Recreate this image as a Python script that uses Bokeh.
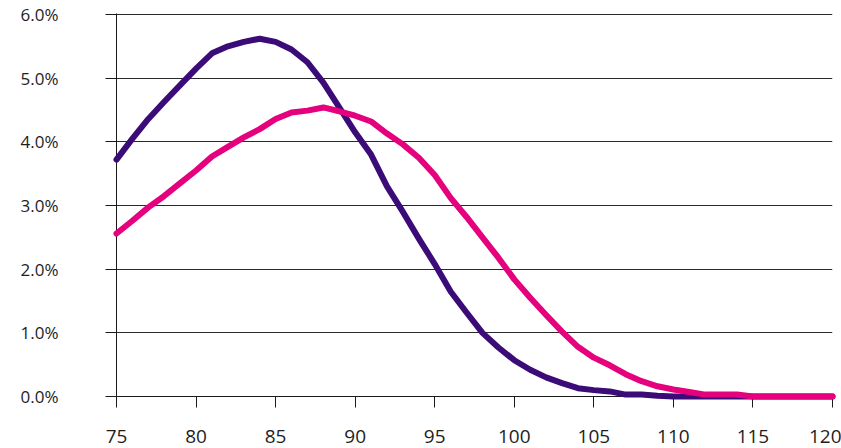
from bokeh.plotting import figure
from bokeh.models import FixedTicker, Range1d
from bokeh.embed import file_html
from bokeh.resources import INLINE

# x positions (75 .. 120)
x_values = list(range(75, 121))

# two distributions, in percent
series_a = [3.72, 4.05, 4.36, 4.63, 4.89, 5.15, 5.39, 5.50, 5.57, 5.62,
            5.57, 5.45, 5.25, 4.93, 4.54, 4.15, 3.80, 3.30, 2.90, 2.48,
            2.08, 1.65, 1.32, 1.00, 0.77, 0.57, 0.42, 0.30, 0.21, 0.13,
            0.10, 0.08, 0.03, 0.03, 0.01, 0.00, 0.00, 0.00, 0.00, 0.00,
            0.00, 0.00, 0.00, 0.00, 0.00, 0.00]
series_b = [2.56, 2.76, 2.97, 3.15, 3.35, 3.55, 3.77, 3.92, 4.07, 4.20,
            4.36, 4.46, 4.49, 4.54, 4.48, 4.41, 4.32, 4.13, 3.96, 3.75,
            3.48, 3.12, 2.82, 2.50, 2.18, 1.84, 1.55, 1.28, 1.02, 0.78,
            0.61, 0.49, 0.35, 0.24, 0.16, 0.11, 0.07, 0.03, 0.03, 0.03,
            0.00, 0.00, 0.00, 0.00, 0.00, 0.00]

x_ticks = [75, 80, 85, 90, 95, 100, 105, 110, 115, 120]
y_ticks = [0.0, 0.01, 0.02, 0.03, 0.04, 0.05, 0.06]
y_tick_labels = {t: f"{t * 100:.1f}%" for t in y_ticks}

PURPLE = "#3b0b78"
MAGENTA = "#e5007d"
INK = "#1e1e1e"
FONT = "Open Sans"

# a hair of headroom so the 6.0% rule is not lost on the frame edge
p = figure(width=841, height=448,
           x_range=Range1d(75, 120), y_range=Range1d(0, 0.060157),
           min_border_left=116, min_border_right=9,
           min_border_top=13, min_border_bottom=52,
           output_backend="svg", toolbar_location=None)
p.outline_line_color = None
p.background_fill_color = "white"
p.border_fill_color = "white"

# grid: horizontal rules only
p.xgrid.visible = False
p.ygrid.ticker = FixedTicker(ticks=y_ticks)
p.ygrid.grid_line_color = "#2a2a2a"
p.ygrid.grid_line_width = 1

for ax, ticks in ((p.xaxis[0], x_ticks), (p.yaxis[0], y_ticks)):
    ax.ticker = FixedTicker(ticks=ticks)
    ax.axis_line_color = "#1a1a1a"
    ax.major_tick_line_color = "#1a1a1a"
    ax.major_tick_out = 11
    ax.major_tick_in = 0
    ax.minor_tick_line_color = None
    ax.major_label_text_font = FONT
    ax.major_label_text_color = INK

p.xaxis.major_label_text_font_size = "19px"
p.xaxis.major_label_text_line_height = 0.6
p.xaxis.major_label_standoff = 22
p.yaxis.major_label_text_font_size = "17px"
p.yaxis.major_label_standoff = 47
p.yaxis.major_label_overrides = y_tick_labels

# the two curves, drawn on top so their round ends are not trimmed
p.line(x_values, [v / 100 for v in series_a], line_color=PURPLE, line_width=6,
       line_cap="round", line_join="round", level="overlay")
p.line(x_values, [v / 100 for v in series_b], line_color=MAGENTA, line_width=6,
       line_cap="round", line_join="round", level="overlay")

open("out.html", "w").write(file_html(p, INLINE))
